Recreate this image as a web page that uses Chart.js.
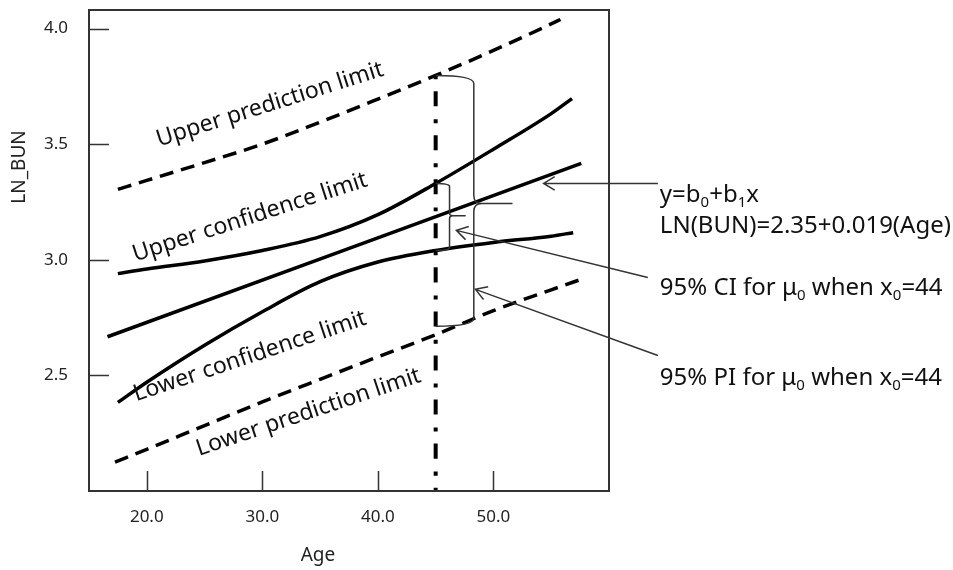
<!DOCTYPE html>
<html>
<head>
<meta charset="utf-8">
<script src="https://cdn.jsdelivr.net/npm/chart.js@4.4.0/dist/chart.umd.min.js"></script>
<style>
  html, body { margin: 0; padding: 0; background: #fff; }
  #wrap { width: 953px; height: 570px; position: relative; }
</style>
</head>
<body>
<div id="wrap"><canvas id="chBand"></canvas></div>
<script>
var FONT = "'Noto Sans', 'Open Sans', sans-serif";

// axis ticks
var ageTicks = [20, 30, 40, 50];
var lnTicks = [2.5, 3.0, 3.5, 4.0];

// fitted line LN(BUN) vs Age
var fitAge = [16.6, 57.6];
var fitLn = [2.667, 3.417];

// confidence limits
var uclAge = [17.5, 20, 25, 30, 35, 40, 45, 50, 55, 56.8];
var uclLn = [2.94, 2.96, 2.995, 3.04, 3.10, 3.195, 3.33, 3.478, 3.632, 3.697];
var lclAge = [17.5, 20, 25, 30, 35, 40, 45, 50, 55, 56.9];
var lclLn = [2.383, 2.47, 2.63, 2.775, 2.905, 2.99, 3.04, 3.075, 3.102, 3.117];

// prediction limits
var uplAge = [17.5, 20, 25, 30, 35, 40, 45, 50, 55, 55.8];
var uplLn = [3.304, 3.343, 3.42, 3.5, 3.595, 3.695, 3.797, 3.905, 4.02, 4.039];
var lplAge = [17.25, 20, 25, 30, 35, 40, 45, 50, 55, 57.8];
var lplLn = [2.125, 2.18, 2.283, 2.385, 2.483, 2.58, 2.676, 2.78, 2.87, 2.919];

// x0 marker line
var x0Age = 45;
var x0Ln = [3.797, 2.0];

// braces and arrows (data units)
var braces = [
    { x: 45, top: 3.797, bottom: 2.712, spine: 48.3, mid: 3.243, tip: 51.65, r: 8 },
    { x: 45, top: 3.330, bottom: 3.040, spine: 46.2, mid: 3.19, tip: 47.6, r: 3 }
];
var arrows = [
    { from: [64.23, 3.330], to: [54.34, 3.330] },
    { from: [63.36, 2.923], to: [46.79, 3.127] },
    { from: [64.23, 2.586], to: [48.44, 2.872] }
];

// labels along the bands
var bandLabels = [
    { text: 'Upper prediction limit', x: 30.66, y: 3.671, angle: 17.5 },
    { text: 'Upper confidence limit', x: 28.93, y: 3.183, angle: 18 },
    { text: 'Lower confidence limit', x: 28.93, y: 2.582, angle: 18.5 },
    { text: 'Lower prediction limit', x: 34.0, y: 2.340, angle: 18.5 }
];

// notes on the right, [text, subscript?]
var notes = [
    { x: 64.40, y: 3.248, runs: [['y=b', 0], ['0', 1], ['+b', 0], ['1', 1], ['x', 0]] },
    { x: 64.40, y: 3.114, runs: [['LN(BUN)=2.35+0.019(Age)', 0]] },
    { x: 64.40, y: 2.846, runs: [['95% CI for \u03bc', 0], ['0', 1], [' when x', 0], ['0', 1], ['=44', 0]] },
    { x: 64.40, y: 2.457, runs: [['95% PI for \u03bc', 0], ['0', 1], [' when x', 0], ['0', 1], ['=44', 0]] }
];

function band(xs, ys, dash, width) {
    return {
        data: xs.map(function (x, i) { return { x: x, y: ys[i] }; }),
        showLine: true,
        borderColor: '#000',
        borderWidth: width,
        borderDash: dash,
        borderCapStyle: 'butt',
        pointRadius: 0,
        fill: false,
        cubicInterpolationMode: 'monotone'
    };
}

function noPad(s) {
    s.paddingTop = 0;
    s.paddingBottom = 0;
    s.paddingLeft = 0;
    s.paddingRight = 0;
}

var framePlugin = {
    id: 'frame',
    afterDraw: function (chart) {
        var ctx = chart.ctx, a = chart.chartArea;
        var xs = chart.scales.x, ys = chart.scales.y;
        ctx.save();
        ctx.strokeStyle = '#333';
        ctx.lineWidth = 2;
        ctx.strokeRect(a.left, a.top, a.right - a.left, a.bottom - a.top);
        ctx.beginPath();
        ageTicks.forEach(function (v) {
            var p = Math.round(xs.getPixelForValue(v)) + 0.5;
            ctx.moveTo(p, a.bottom);
            ctx.lineTo(p, a.bottom - 20);
        });
        lnTicks.forEach(function (v) {
            var p = Math.round(ys.getPixelForValue(v)) + 0.5;
            ctx.moveTo(a.left, p);
            ctx.lineTo(a.left + 20, p);
        });
        ctx.lineWidth = 1.5;
        ctx.stroke();

        // axis titles
        ctx.fillStyle = '#222';
        ctx.font = '19px ' + FONT;
        ctx.textAlign = 'center';
        ctx.textBaseline = 'alphabetic';
        ctx.fillText('Age', 318, 561);
        ctx.save();
        ctx.translate(25, 167);
        ctx.rotate(-Math.PI / 2);
        ctx.fillText('LN_BUN', 0, 0);
        ctx.restore();
        ctx.restore();
    }
};

var notePlugin = {
    id: 'notes',
    afterDraw: function (chart) {
        var ctx = chart.ctx;
        var X = function (v) { return chart.scales.x.getPixelForValue(v); };
        var Y = function (v) { return chart.scales.y.getPixelForValue(v); };
        ctx.save();
        ctx.strokeStyle = '#333';
        ctx.lineWidth = 1.5;

        braces.forEach(function (b) {
            var xl = X(b.x), xb = X(b.spine), xt = X(b.tip);
            var yt = Y(b.top), ym = Y(b.mid), yb = Y(b.bottom), r = b.r;
            ctx.beginPath();
            ctx.moveTo(xl, yt);
            ctx.quadraticCurveTo(xb, yt, xb, yt + r);
            ctx.lineTo(xb, ym - r);
            ctx.quadraticCurveTo(xb, ym, xb + r, ym);
            ctx.lineTo(xt, ym);
            ctx.moveTo(xb + r, ym);
            ctx.quadraticCurveTo(xb, ym, xb, ym + r);
            ctx.lineTo(xb, yb - r);
            ctx.quadraticCurveTo(xb, yb, xl, yb);
            ctx.stroke();
        });

        arrows.forEach(function (a) {
            var x1 = X(a.from[0]), y1 = Y(a.from[1]), x2 = X(a.to[0]), y2 = Y(a.to[1]);
            var ang = Math.atan2(y2 - y1, x2 - x1), h = 13, s = 0.55;
            ctx.beginPath();
            ctx.moveTo(x1, y1);
            ctx.lineTo(x2, y2);
            ctx.moveTo(x2 - h * Math.cos(ang - s), y2 - h * Math.sin(ang - s));
            ctx.lineTo(x2, y2);
            ctx.lineTo(x2 - h * Math.cos(ang + s), y2 - h * Math.sin(ang + s));
            ctx.stroke();
        });

        ctx.fillStyle = '#111';
        ctx.textBaseline = 'middle';
        ctx.textAlign = 'center';
        ctx.font = '23px ' + FONT;
        bandLabels.forEach(function (l) {
            ctx.save();
            ctx.translate(X(l.x), Y(l.y));
            ctx.rotate(-l.angle * Math.PI / 180);
            ctx.fillText(l.text, 0, 0);
            ctx.restore();
        });

        ctx.textAlign = 'left';
        ctx.textBaseline = 'alphabetic';
        notes.forEach(function (n) {
            var x = X(n.x), y = Y(n.y);
            n.runs.forEach(function (run) {
                if (run[1]) {
                    ctx.font = '15px ' + FONT;
                    ctx.fillText(run[0], x, y + 5);
                } else {
                    ctx.font = '24px ' + FONT;
                    ctx.fillText(run[0], x, y);
                }
                x += ctx.measureText(run[0]).width;
            });
        });
        ctx.restore();
    }
};

var tickFont = { family: FONT, size: 17 };

new Chart(document.getElementById('chBand'), {
    type: 'scatter',
    data: {
        datasets: [
            band(fitAge, fitLn, [], 3.5),
            band(uclAge, uclLn, [], 3.5),
            band(lclAge, lclLn, [], 3.5),
            band(uplAge, uplLn, [14, 8], 3.5),
            band(lplAge, lplLn, [14, 8], 3.5),
            band([x0Age, x0Age], x0Ln, [4, 12, 15, 13], 4)
        ]
    },
    options: {
        animation: false,
        responsive: true,
        maintainAspectRatio: false,
        layout: { padding: { top: 10, right: 344, left: 0, bottom: 0 } },
        plugins: { legend: { display: false }, tooltip: { enabled: false } },
        scales: {
            x: {
                type: 'linear',
                min: 15,
                max: 60,
                grid: { display: false, drawTicks: false },
                border: { display: false },
                afterBuildTicks: function (s) { s.ticks = ageTicks.map(function (v) { return { value: v }; }); },
                afterFit: function (s) { s.height = 79; noPad(s); },
                ticks: {
                    padding: 16,
                    color: '#222',
                    font: tickFont,
                    maxRotation: 0,
                    autoSkip: false,
                    callback: function (v) { return Number(v).toFixed(1); }
                }
            },
            y: {
                type: 'linear',
                min: 2.0,
                max: 4.08,
                grid: { display: false, drawTicks: false },
                border: { display: false },
                afterBuildTicks: function (s) { s.ticks = lnTicks.map(function (v) { return { value: v }; }); },
                afterFit: function (s) { s.width = 89; noPad(s); },
                ticks: {
                    padding: 21,
                    color: '#222',
                    font: tickFont,
                    autoSkip: false,
                    callback: function (v) { return Number(v).toFixed(1); }
                }
            }
        }
    },
    plugins: [framePlugin, notePlugin]
});
</script>
</body>
</html>
